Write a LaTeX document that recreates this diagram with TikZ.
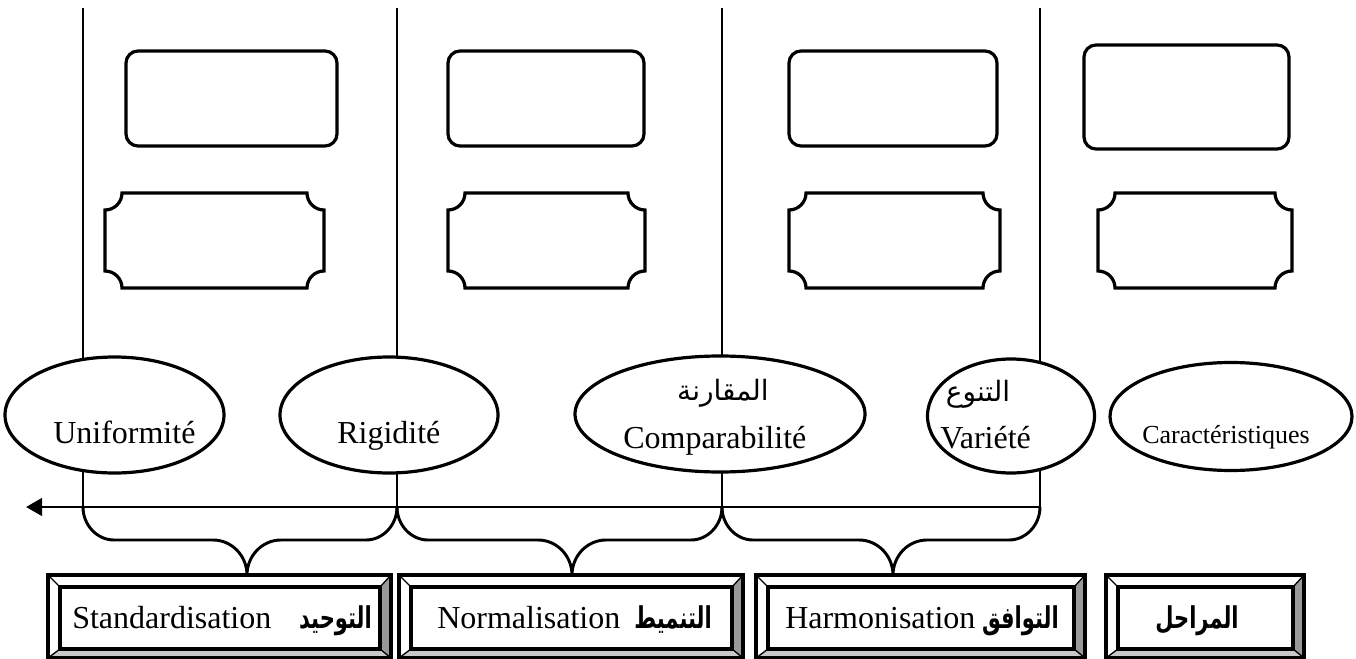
\documentclass[tikz,border=0pt]{standalone}
\usepackage{fontspec}
\setmainfont{Liberation Serif}
\newfontfamily\arfont[Script=Arabic]{DejaVu Sans}
\newfontfamily\arbfont[Script=Arabic, FakeStretch=0.7]{DejaVu Sans Bold}
\TeXXeTstate=1
\usetikzlibrary{shapes.geometric,fit,arrows.meta}
\definecolor{bevR}{HTML}{999999}
\definecolor{bevB}{HTML}{C8C8C8}
\tikzset{
  ln/.style={line width=2.2pt, line join=round},
  rbox/.style={draw, line width=2.4pt, rounded corners=9pt, inner sep=0pt},
  oval/.style={ellipse, draw, line width=2.4pt, fill=white, inner sep=0pt},
  lat/.style={inner sep=0pt, font=\fontsize{24}{28}\selectfont},
  latsm/.style={inner sep=0pt, font=\fontsize{19.5}{23}\selectfont},
  arb/.style={inner sep=0pt, font=\arbfont\fontsize{22.5}{26}\selectfont},
  arr/.style={inner sep=0pt, font=\arfont\fontsize{21}{25}\selectfont},
}
% concave-corner plaque: x1,y1,x2,y2
\newcommand\plq[4]{%
  \draw[line width=2.4pt, fill=white]
    (#1+17,#2) -- (#3-17,#2)
    .. controls (#3-17,#2+9.4) and (#3-9.4,#2+17) .. (#3,#2+17)
    -- (#3,#4-17)
    .. controls (#3-9.4,#4-17) and (#3-17,#4-9.4) .. (#3-17,#4)
    -- (#1+17,#4)
    .. controls (#1+17,#4-9.4) and (#1+9.4,#4-17) .. (#1,#4-17)
    -- (#1,#2+17)
    .. controls (#1+9.4,#2+17) and (#1+17,#2+9.4) .. (#1+17,#2) -- cycle;}
% bevel box: name, x1, x2
\newcommand\bvbox[3]{%
  \fill[white] (#2,575) rectangle (#3,658);
  \fill[bevR] (#3,575) -- (#3,658) -- (#3-11,649) -- (#3-11,587) -- cycle;
  \fill[bevB] (#2,658) -- (#3,658) -- (#3-11,649) -- (#2+12,649) -- cycle;
  \draw[line width=1pt] (#2,575) -- (#2+12,587) (#3,575) -- (#3-11,587)
    (#2,658) -- (#2+12,649) (#3,658) -- (#3-11,649);
  \draw[line width=2.4pt, fill=white] (#2+12,587) rectangle (#3-11,649);
  \node[fit={(#2,575) (#3,658)}, inner sep=0pt, draw, line width=2.4pt] (#1) {};}
% brace: left coord, Lx, tip coord, Tx, right coord, Rx
\newcommand\brc[6]{%
  \draw[ln] (#1) .. controls (#2,525) and (#2+14,540) .. (#2+31,540)
    -- (#4-34,540) .. controls (#4-15,540) and (#4,556) .. (#3)
    .. controls (#4,556) and (#4+15,540) .. (#4+34,540)
    -- (#6-31,540) .. controls (#6-14,540) and (#6,525) .. (#5);}

\begin{document}
\begin{tikzpicture}[x=0.75pt,y=-0.75pt]
\useasboundingbox (0,0) rectangle (1356,659);

% column separators
\coordinate (v1t) at (83,8);   \coordinate (v1b) at (83,507);
\coordinate (v2t) at (397,8);  \coordinate (v2b) at (397,507);
\coordinate (v3t) at (722,8);  \coordinate (v3b) at (722,507);
\coordinate (v4t) at (1040,8); \coordinate (v4b) at (1040,507);
\foreach \i in {1,2,3,4} \draw[ln] (v\i t) -- (v\i b);

% top rounded boxes
\node[rbox, fit={(126,51) (337,146)}] (r1) {};
\node[rbox, fit={(448,51) (644,146)}] (r2) {};
\node[rbox, fit={(789,51) (997,146)}] (r3) {};
\node[rbox, fit={(1084,45) (1289,149)}] (r4) {};

% plaques
\plq{105}{193}{324}{288}
\plq{448}{193}{645}{288}
\plq{789}{193}{1000}{288}
\plq{1098}{193}{1292}{288}

% ellipses
\node[oval, minimum width=219*0.75pt, minimum height=116*0.75pt] (e1) at (114.5,415) {};
\node[oval, minimum width=218*0.75pt, minimum height=116*0.75pt] (e2) at (389,415) {};
\node[oval, minimum width=290*0.75pt, minimum height=116*0.75pt] (e3) at (720,414) {};
\node[oval, minimum width=167*0.75pt, minimum height=114*0.75pt] (e4) at (1011,416) {};
\node[oval, minimum width=242*0.75pt, minimum height=108*0.75pt] (e5) at (1231,416.5) {};

\node[lat, anchor=base west] (e1t) at (53,443) {Uniformité};
\node[lat, anchor=base west] (e2t) at (337,443) {Rigidité};
\node[arr, anchor=base] (e3a) at (723,400) {\beginR المقارنة\endR};
\node[lat, anchor=base west] (e3t) at (623,448) {Comparabilité};
\node[arr, anchor=base] (e4a) at (978,401) {\beginR التنوع\endR};
\node[lat, anchor=base west] (e4t) at (940,448) {Variété};
\node[latsm, anchor=base west] (e5t) at (1142,443) {Caractéristiques};

% arrow
\coordinate (ah) at (26,507);
\draw[ln, -{Triangle[length=12pt,width=13pt]}] (v4b) -- (ah);

% braces
\coordinate (t1) at (247,575);
\coordinate (t2) at (572,575);
\coordinate (t3) at (893,575);
\brc{v1b}{83}{t1}{247}{v2b}{397}
\brc{v2b}{397}{t2}{572}{v3b}{722}
\brc{v3b}{722}{t3}{893}{v4b}{1040}

% bottom boxes
\bvbox{b1}{48}{391}
\bvbox{b2}{399}{743}
\bvbox{b3}{756}{1085}
\bvbox{b4}{1106}{1304}

\node[lat, anchor=base west] (b1l) at (72,628) {Standardisation};
\node[arb, anchor=base east] (b1a) at (372,628) {\beginR التوحيد\endR};
\node[lat, anchor=base west] (b2l) at (437,628) {Normalisation};
\node[arb, anchor=base east] (b2a) at (712,628) {\beginR التنميط\endR};
\node[lat, anchor=base west] (b3l) at (785,628) {Harmonisation};
\node[arb, anchor=base east] (b3a) at (1059,628) {\beginR التوافق\endR};
\node[arb, anchor=base] (b4a) at (1197,628) {\beginR المراحل\endR};
\end{tikzpicture}
\end{document}
